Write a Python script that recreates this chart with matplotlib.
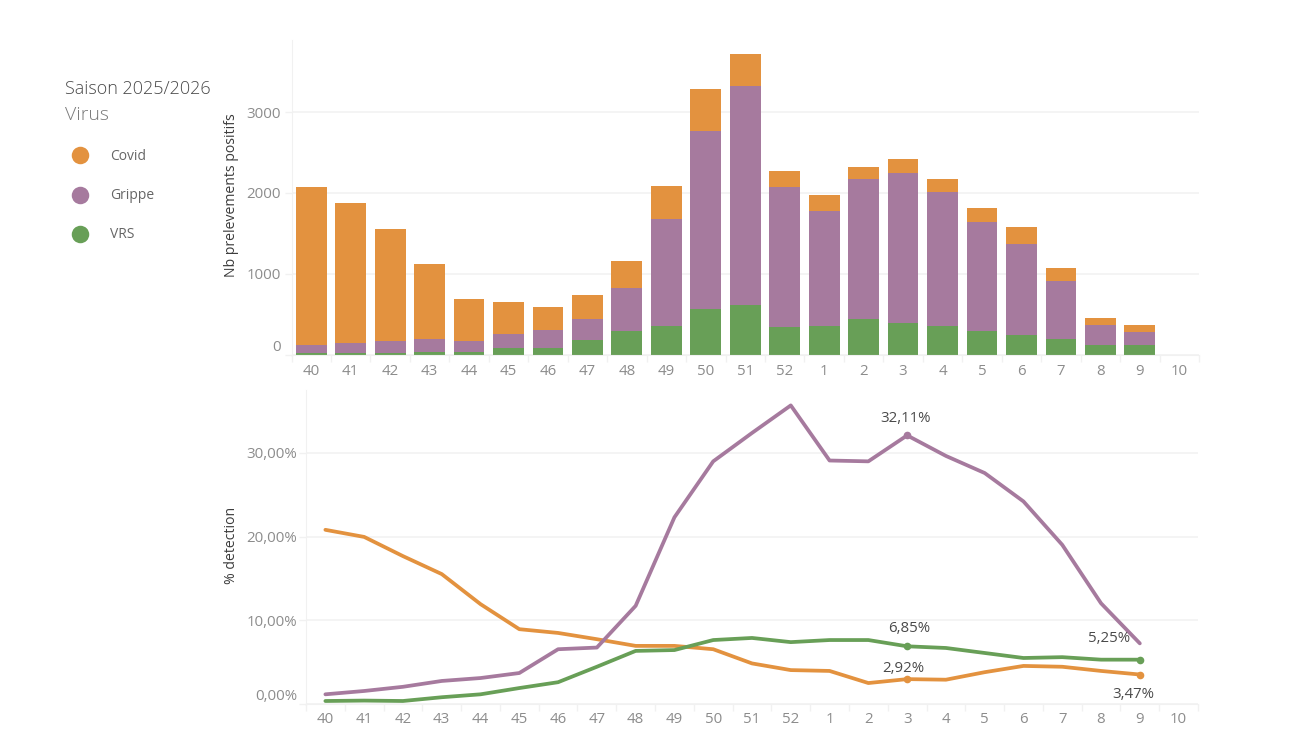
#!/usr/bin/env python
import numpy as np
import matplotlib
matplotlib.use('Agg')
import matplotlib.pyplot as plt
from matplotlib.ticker import FuncFormatter

W, H = 1300, 751

weeks = ['40', '41', '42', '43', '44', '45', '46', '47', '48', '49', '50', '51', '52',
         '1', '2', '3', '4', '5', '6', '7', '8', '9', '10']

# stacked counts, last week has no data yet
nb_vrs = [15, 15, 15, 37, 30, 80, 80, 180, 290, 353, 563, 613, 340,
          353, 439, 390, 353, 290, 241, 186, 118, 118, 0]
nb_grippe = [103, 133, 158, 155, 143, 174, 223, 259, 527, 1330, 2203, 2704, 1727,
             1423, 1739, 1856, 1652, 1344, 1127, 724, 253, 160, 0]
nb_covid = [1961, 1721, 1380, 928, 520, 396, 291, 297, 340, 402, 514, 402, 204,
            192, 142, 174, 167, 185, 210, 161, 81, 87, 0]

# detection rate (%), week 10 missing
pct_covid = [20.8, 19.95, 17.65, 15.5, 11.9, 8.9, 8.45, 7.7, 6.9, 6.9, 6.5, 4.8, 4.0,
             3.9, 2.45, 2.92, 2.85, 3.75, 4.5, 4.4, 3.9, 3.47]
pct_grippe = [1.1, 1.5, 2.0, 2.7, 3.05, 3.65, 6.5, 6.7, 11.7, 22.3, 29.0, 32.4, 35.7,
              29.1, 29.0, 32.11, 29.65, 27.6, 24.2, 19.0, 12.0, 7.2]
pct_vrs = [0.3, 0.35, 0.3, 0.75, 1.1, 1.85, 2.55, 4.4, 6.3, 6.4, 7.6, 7.85, 7.35,
           7.6, 7.6, 6.85, 6.65, 6.05, 5.45, 5.55, 5.25, 5.25]

virus_names = ['Covid', 'Grippe', 'VRS']
ORANGE = '#E3923F'
PURPLE = '#A67A9E'
GREEN = '#689F57'
virus_colors = [ORANGE, PURPLE, GREEN]

GRID = '#f1f1f1'
TICK_TXT = '#8c8c8c'
TITLE_TXT = '#3c3c3c'

plt.rcParams['font.family'] = ['Open Sans', 'DejaVu Sans']


def px_axes(fig, left, top, right, bottom):
    return fig.add_axes([left / W, 1 - bottom / H, (right - left) / W, (bottom - top) / H])


def style_axes(ax, xpad, ypad):
    for s in ['top', 'right']:
        ax.spines[s].set_visible(False)
    ax.spines['left'].set_color(GRID)
    ax.spines['bottom'].set_color(GRID)
    ax.grid(axis='y', color=GRID, lw=1.1)
    ax.set_axisbelow(True)
    ax.set_xlim(-0.5, len(weeks) - 0.5)
    ax.set_xticks(range(len(weeks)))
    ax.set_xticklabels(weeks)
    ax.set_xticks(np.arange(-0.5, len(weeks)), minor=True)
    ax.tick_params(axis='x', which='major', length=0, pad=xpad, labelsize=10.8, labelcolor=TICK_TXT)
    ax.tick_params(axis='x', which='minor', length=5, color=GRID, width=1)
    ax.tick_params(axis='y', length=5, color=GRID, width=1, pad=ypad, labelsize=10.8, labelcolor=TICK_TXT)


fig = plt.figure(figsize=(W / 100, H / 100), dpi=100, facecolor='white')

# bars
ax1 = px_axes(fig, 291.5, 40, 1199, 354.5)
style_axes(ax1, 7, 2.5)
x = np.arange(len(weeks))
vrs = np.array(nb_vrs)
grippe = np.array(nb_grippe)
covid = np.array(nb_covid)
ax1.bar(x, vrs, width=0.78, color=GREEN)
ax1.bar(x, grippe, width=0.78, bottom=vrs, color=PURPLE)
ax1.bar(x, covid, width=0.78, bottom=vrs + grippe, color=ORANGE)
ax1.set_ylim(0, 3892)
ax1.set_yticks([0, 1000, 2000, 3000])
ax1.get_yticklabels()[0].set_verticalalignment('bottom')
fig.text(232 / W, 1 - 195 / H, 'Nb prelevements positifs', rotation=90, fontsize=10.1,
         color=TITLE_TXT, ha='center', va='center')

# lines
ax2 = px_axes(fig, 306, 390, 1198, 703.5)
style_axes(ax2, 6, 1.5)
xl = np.arange(len(pct_covid))
for vals, col in zip([pct_covid, pct_grippe, pct_vrs], virus_colors):
    ax2.plot(xl, vals, color=col, lw=2.7, solid_joinstyle='round', solid_capstyle='round')
ax2.set_ylim(0, 313.5 / 8.35)
ax2.set_yticks([0, 10, 20, 30])
ax2.yaxis.set_major_formatter(FuncFormatter(lambda v, p: ('%.2f' % v).replace('.', ',') + '%'))
ax2.get_yticklabels()[0].set_verticalalignment('bottom')
fig.text(232 / W, 1 - 545 / H, '% detection', rotation=90, fontsize=10.1,
         color=TITLE_TXT, ha='center', va='center')

# highlighted points and their labels
marks = [(15, pct_grippe, PURPLE, '32,11%', -2, 16.5),
         (15, pct_vrs, GREEN, '6,85%', 2, 18),
         (15, pct_covid, ORANGE, '2,92%', -4, 11),
         (21, pct_vrs, GREEN, '5,25%', -31, 21.5),
         (21, pct_covid, ORANGE, '3,47%', -7, -19.5)]
for i, vals, col, txt, dx, dy in marks:
    ax2.plot(xl[i], vals[i], 'o', color=col, ms=5.5, mew=0, clip_on=False)
    ax2.annotate(txt, (xl[i], vals[i]), xytext=(dx, dy), textcoords='offset pixels',
                 ha='center', va='center', fontsize=10.8, color='#4a4a4a', annotation_clip=False)

# legend on the left
fig.text(65 / W, 1 - 88.5 / H, 'Saison 2025/2026', fontsize=12.95, fontweight='light',
         color='#4a4a4a', va='center')
fig.text(65 / W, 1 - 115.5 / H, 'Virus', fontsize=14, fontweight='light', color='#7a7a7a', va='center')
leg_y = [155, 194.5, 234]
for name, col, y in zip(virus_names, virus_colors, leg_y):
    fig.add_artist(plt.Line2D([79.5 / W], [1 - y / H], marker='o', color=col, ms=12.6, mew=0,
                              transform=fig.transFigure))
    fig.text(110 / W, 1 - (y + 1) / H, name, fontsize=10, color='#666666', va='center')

fig.savefig('out.png', dpi=100, facecolor='white')
